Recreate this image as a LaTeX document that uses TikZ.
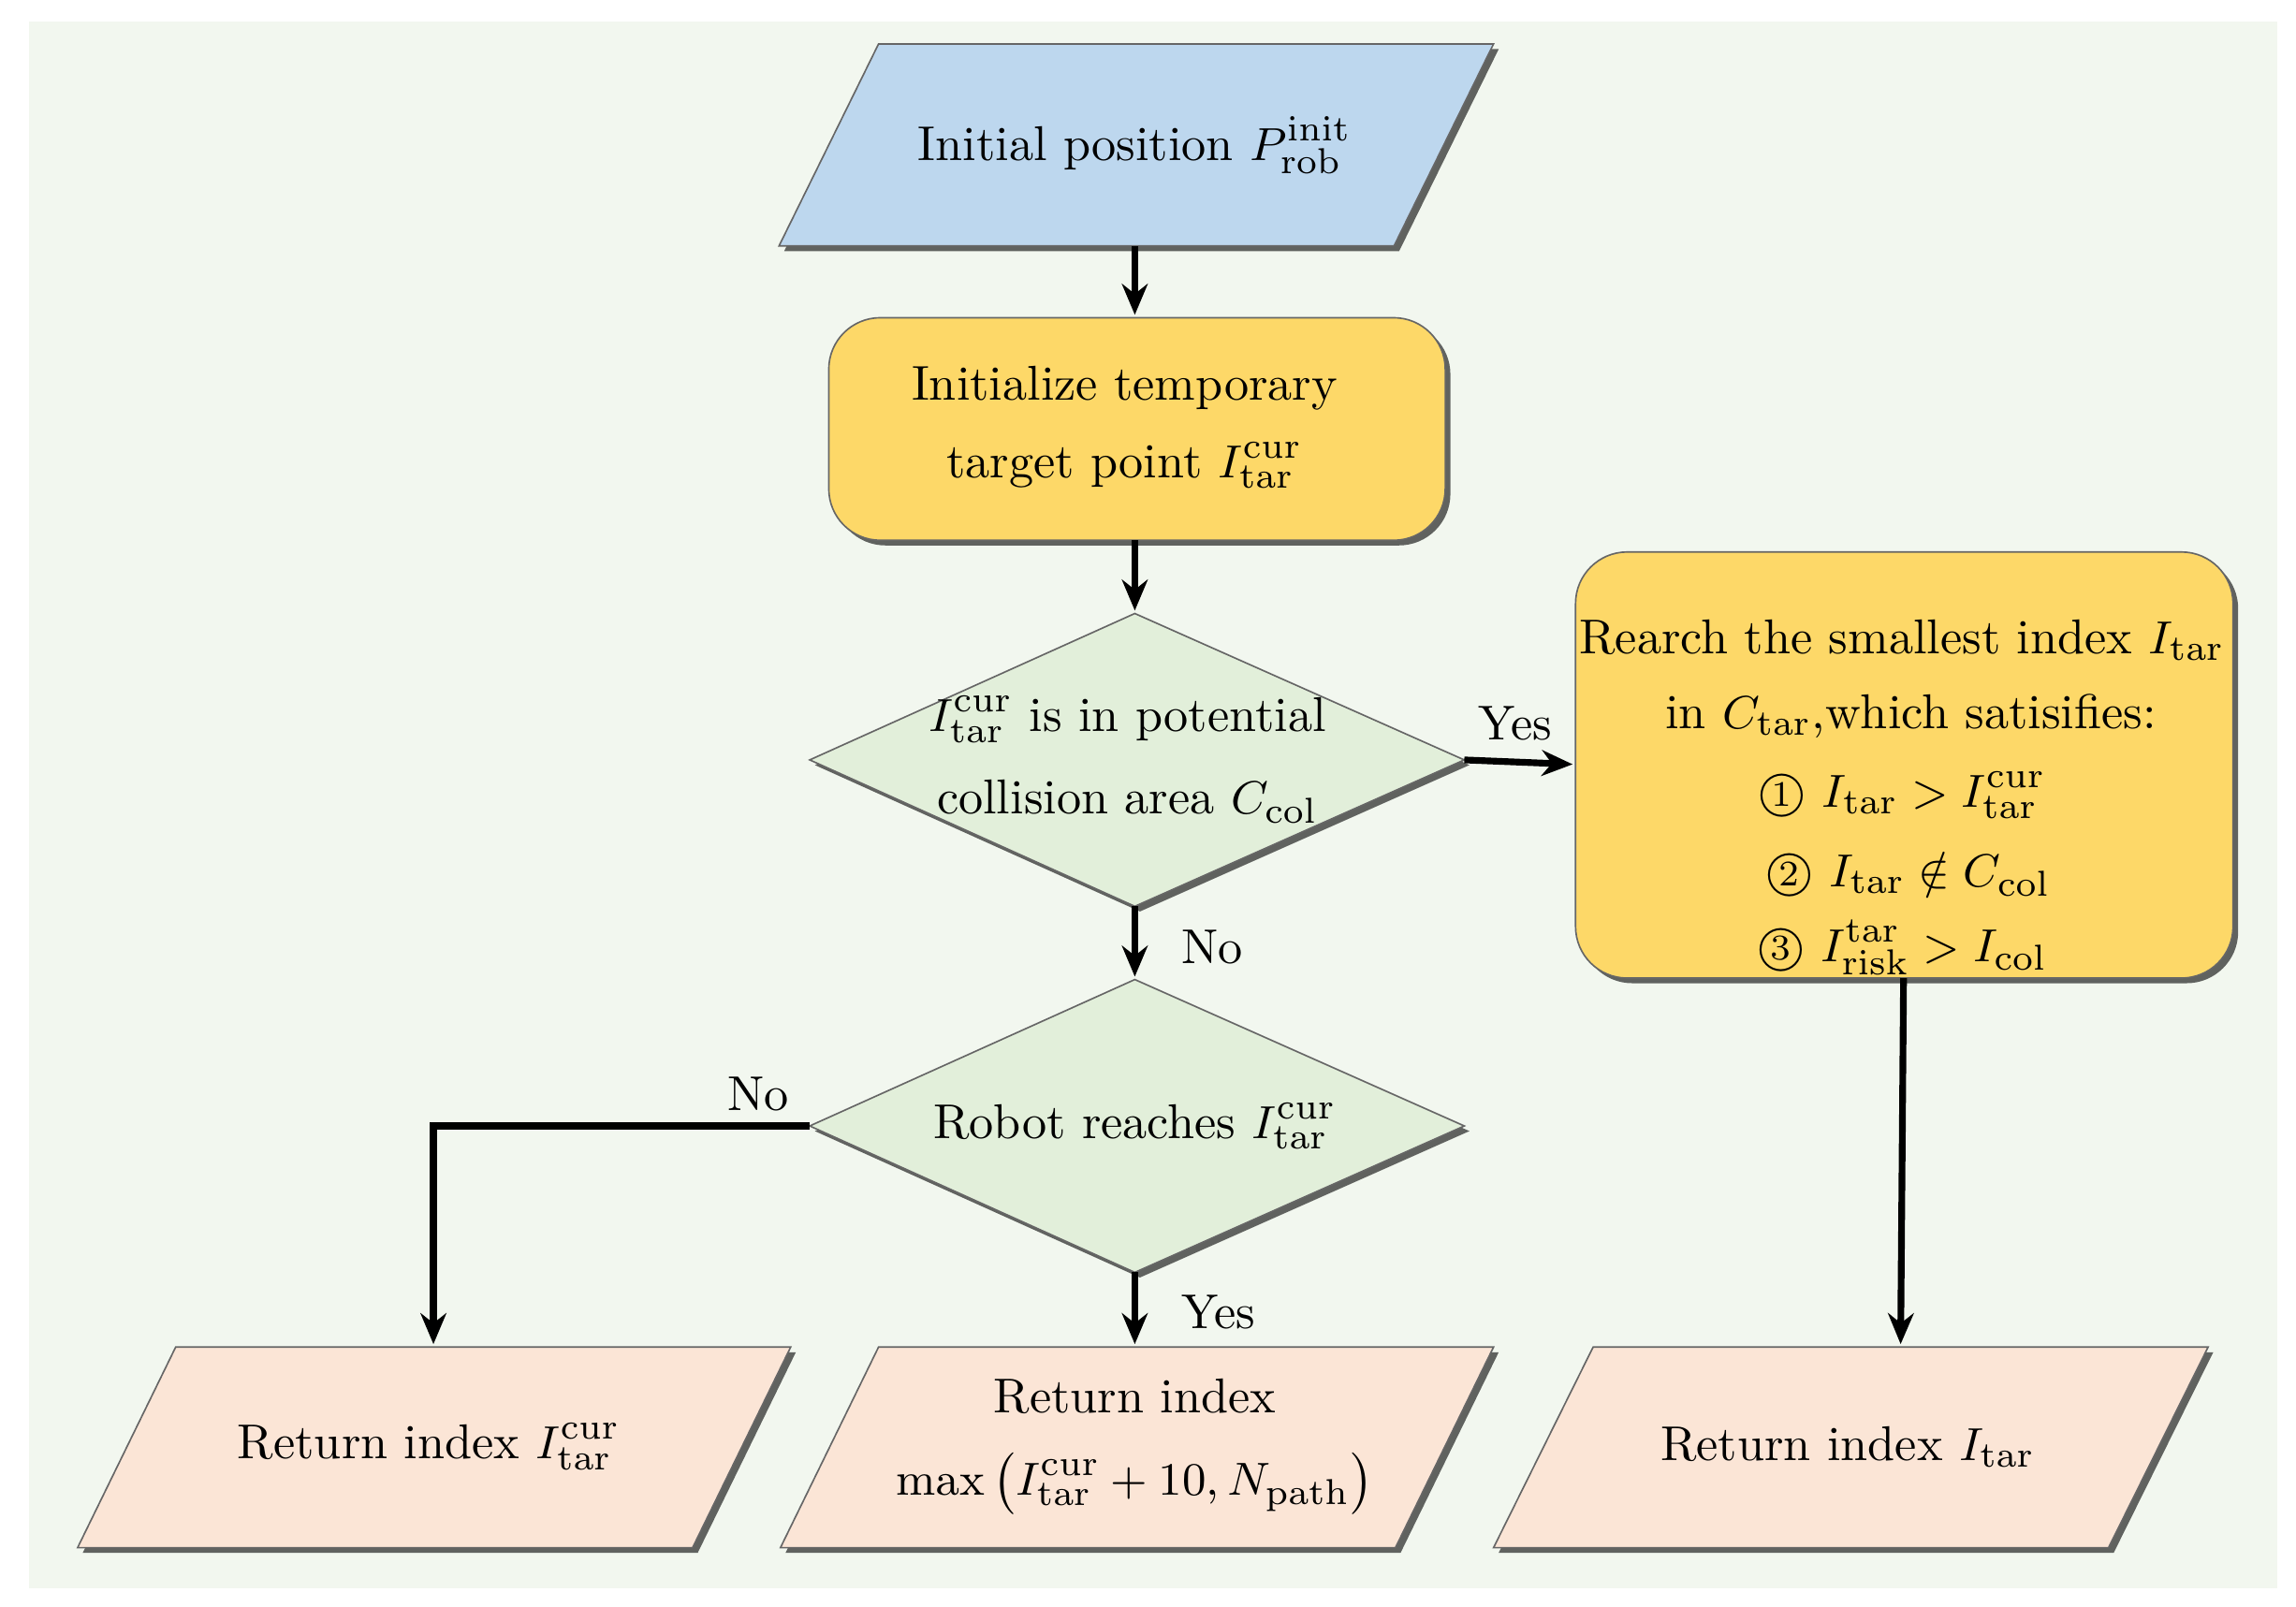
\documentclass[tikz,border=0pt]{standalone}
\usetikzlibrary{shadows,arrows.meta}
\begin{document}
\begin{tikzpicture}[x=0.01cm,y=-0.01cm,
  every node/.style={font=\fontsize{9.5}{13}\selectfont, align=center},
  shp/.style={draw=black!60, line width=0.3pt, drop shadow={shadow xshift=1pt,shadow yshift=-1pt,opacity=0.6,fill=black}},
  arr/.style={line width=1.3pt, -{Stealth[length=6pt,width=5pt]}},
  rl/.style={inner sep=0.5pt},
  lab/.style={font=\fontsize{9.5}{11}\selectfont}]
\definecolor{bg}{HTML}{F2F7EF}
\definecolor{blu}{HTML}{BDD7EE}
\definecolor{yel}{HTML}{FDD868}
\definecolor{grn}{HTML}{E2EFDA}
\definecolor{pnk}{HTML}{FBE5D6}
\useasboundingbox (0,0) rectangle (1568,1097);
\fill[white] (0,0) rectangle (1568,1097);
\fill[bg] (20,15) rectangle (1555,1085);
% shapes
\path[shp,fill=blu] (532,168)--(600,30)--(1020,30)--(952,168)--cycle;
\path[shp,fill=yel,rounded corners=10] (566,217) rectangle (987,369);
\path[shp,fill=grn] (553,519)--(775,419)--(1000,519)--(775,619)--cycle;
\path[shp,fill=grn] (553,769)--(775,669)--(1000,769)--(775,869)--cycle;
\path[shp,fill=yel,rounded corners=10] (1076,377) rectangle (1525,668);
\path[shp,fill=pnk] (53,1057)--(120,920)--(540,920)--(473,1057)--cycle;
\path[shp,fill=pnk] (533,1057)--(600,920)--(1020,920)--(953,1057)--cycle;
\path[shp,fill=pnk] (1020,1057)--(1088,920)--(1508,920)--(1440,1057)--cycle;
% texts
\node (init) at (775,99) {Initial position $P^{\mathrm{init}}_{\mathrm{rob}}$};
\node (ini2) at (768,292) {Initialize temporary\\[2pt] target point $I^{\mathrm{cur}}_{\mathrm{tar}}$};
\node (d1) at (770,519) {$I^{\mathrm{cur}}_{\mathrm{tar}}$ is in potential\\[3pt] collision area $C_{\mathrm{col}}$};
\node (d2) at (775,769) {Robot reaches $I^{\mathrm{cur}}_{\mathrm{tar}}$};
\node[rl] (r1) at (1299,437) {Rearch the smallest index $I_{\mathrm{tar}}$};
\node[rl] (r2) at (1305,489) {in $C_{\mathrm{tar}}$,which satisifies:};
\node[rl] (r3) at (1299,543) {\textcircled{\scriptsize 1} $I_{\mathrm{tar}}>I^{\mathrm{cur}}_{\mathrm{tar}}$};
\node[rl] (r4) at (1303,597) {\textcircled{\scriptsize 2} $I_{\mathrm{tar}}\notin C_{\mathrm{col}}$};
\node[rl] (r5) at (1299,647) {\textcircled{\scriptsize 3} $I^{\mathrm{tar}}_{\mathrm{risk}}>I_{\mathrm{col}}$};
\node (o1) at (293,988) {Return index $I^{\mathrm{cur}}_{\mathrm{tar}}$};
\node (o2) at (775,988) {Return index\\[3pt] $\max\left(I^{\mathrm{cur}}_{\mathrm{tar}}+10,N_{\mathrm{path}}\right)$};
\node (o3) at (1262,988) {Return index $I_{\mathrm{tar}}$};
% anchor coordinates
\coordinate (a1) at (775,168); \coordinate (a2) at (775,215);
\coordinate (b1) at (775,369); \coordinate (b2) at (775,417);
\coordinate (c1) at (1000,519); \coordinate (c2) at (1074,522);
\coordinate (e1) at (775,619); \coordinate (e2) at (775,667);
\coordinate (f1) at (553,769); \coordinate (f2) at (296,918);
\coordinate (g1) at (775,869); \coordinate (g2) at (775,918);
\coordinate (h1) at (1300,668); \coordinate (h2) at (1298,918);
\draw[arr] (a1)--(a2);
\draw[arr] (b1)--(b2);
\draw[arr] (c1)--(c2);
\draw[arr] (e1)--(e2);
\draw[arr] (f1)-|(f2);
\draw[arr] (g1)--(g2);
\draw[arr] (h1)--(h2);
\node[lab] (y1) at (1035,494) {Yes};
\node[lab] (n1) at (828,647) {No};
\node[lab] (n2) at (518,747) {No};
\node[lab] (y2) at (832,896) {Yes};
\end{tikzpicture}
\end{document}
